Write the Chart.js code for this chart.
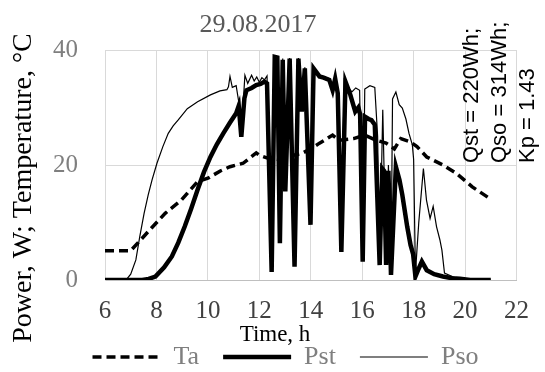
<!DOCTYPE html>
<html>
<head>
<meta charset="utf-8">
<script src="https://cdn.jsdelivr.net/npm/chart.js@4.4.0/dist/chart.umd.min.js"></script>
<style>
  html, body { margin: 0; padding: 0; background: #fff; }
  #wrap { width: 545px; height: 372px; }
</style>
</head>
<body>
<div id="wrap"><canvas id="mychart" width="545" height="372"></canvas></div>
<script>
// chart texts
const chartTitle = "29.08.2017"
const xTitle = "Time, h"
const yTitle = "Power, W; Temperature, \u00B0C"
const notes = ["Qst = 220Wh;", "Qso = 314Wh;", "Kp = 1.43"]
const seriesNames = ["Ta", "Pst", "Pso"]

// ambient temperature
const taTime = [6, 7.0, 7.33, 7.8, 8.34, 8.97, 9.6, 10.0, 10.5, 10.86, 11.37, 11.88, 12.0, 12.32, 12.7, 13.33, 13.65, 14.03, 14.34, 14.53, 14.85, 15.1, 15.67, 16.1, 16.55, 16.93, 17.25, 17.5, 17.88, 18.13, 18.51, 19.14, 19.65, 20.28, 20.95]
const taVal = [5.1, 5.1, 6.7, 9.0, 11.6, 13.9, 17.1, 17.7, 19.0, 19.7, 20.3, 22.1, 21.7, 21.2, 21.0, 21.7, 22.0, 22.9, 23.8, 24.3, 25.2, 24.3, 24.6, 25.2, 24.3, 23.8, 22.8, 24.6, 24.0, 23.2, 21.4, 20.0, 18.6, 16.2, 14.2]

// power, st
const pstTime = [6, 7.45, 7.7, 7.96, 8.3, 8.6, 8.85, 9.1, 9.35, 9.6, 9.85, 10.1, 10.35, 10.6, 10.85, 11.1, 11.2, 11.3, 11.42, 11.5, 11.7, 11.88, 12.05, 12.2, 12.3, 12.48, 12.6, 12.7, 12.8, 12.91, 13.01, 13.18, 13.37, 13.52, 13.65, 13.77, 13.99, 14.11, 14.34, 14.5, 14.72, 14.85, 14.95, 15.05, 15.19, 15.35, 15.45, 15.54, 15.65, 15.73, 15.85, 15.92, 16.02, 16.11, 16.25, 16.36, 16.49, 16.68, 16.78, 16.85, 16.93, 17.02, 17.12, 17.31, 17.45, 17.56, 17.75, 17.88, 17.98, 18.07, 18.2, 18.32, 18.51, 18.8, 19.14, 19.5, 19.8, 20.2, 21.0]
const pstVal = [0, 0, 0.2, 0.6, 2.2, 4.1, 6.5, 9.3, 12.4, 15.7, 18.8, 21.4, 23.6, 25.5, 27.3, 29.0, 30.3, 24.9, 31.6, 33.0, 33.4, 33.9, 34.1, 34.5, 34.2, 1.4, 38.8, 38.7, 6.4, 38.3, 15.4, 38.5, 2.3, 38.5, 29.3, 36.8, 9.6, 36.8, 35.4, 35.2, 34.8, 33.0, 35.0, 32.5, 4.9, 34.5, 33.3, 32.2, 30.5, 29.3, 30.0, 28.8, 3.2, 28.4, 28.0, 27.8, 27.0, 2.6, 19.4, 19.0, 2.6, 19.0, 0.9, 19.7, 17.4, 14.8, 9.3, 6.1, 4.5, 0.6, 2.0, 3.2, 1.7, 1.0, 0.6, 0.3, 0.2, 0, 0]

// power, so
const psoTime = [6, 6.82, 7.0, 7.2, 7.35, 7.52, 7.68, 7.83, 8.02, 8.25, 8.46, 8.65, 8.84, 9.2, 9.6, 10.1, 10.47, 10.74, 10.8, 10.86, 10.95, 11.1, 11.2, 11.3, 11.44, 11.55, 11.7, 11.8, 11.9, 12.0, 12.1, 12.2, 12.3, 12.48, 12.6, 12.7, 12.8, 12.91, 13.01, 13.18, 13.37, 13.52, 13.65, 13.77, 13.99, 14.11, 14.34, 14.5, 14.72, 14.85, 14.95, 15.05, 15.19, 15.3, 15.45, 15.6, 15.75, 15.9, 16.02, 16.1, 16.3, 16.49, 16.6, 16.68, 16.8, 16.93, 17.02, 17.12, 17.18, 17.31, 17.44, 17.56, 17.7, 17.82, 17.95, 18.0, 18.07, 18.2, 18.38, 18.5, 18.64, 18.76, 18.89, 19.02, 19.1, 19.2, 19.5, 19.7, 20.0, 21.0]
const psoVal = [0, 0, 1.0, 3.5, 7.5, 11.6, 14.8, 17.4, 20.3, 23.2, 25.5, 26.8, 27.8, 29.8, 31.0, 32.2, 32.9, 33.1, 33.6, 35.4, 33.5, 33.8, 31.0, 25.5, 35.6, 34.2, 35.6, 34.6, 35.3, 34.4, 35.2, 34.8, 35.5, 1.6, 38.9, 38.8, 6.6, 38.5, 15.6, 38.6, 2.5, 38.6, 29.5, 37.0, 9.8, 37.0, 35.6, 35.4, 35.0, 33.2, 35.2, 33.0, 5.1, 34.8, 33.5, 32.7, 33.4, 33.0, 3.4, 33.2, 33.8, 33.5, 25.0, 2.8, 29.6, 2.8, 20.0, 1.1, 31.5, 32.7, 30.5, 29.9, 28.0, 25.5, 23.5, 21.0, 1.2, 10.0, 19.4, 13.9, 10.7, 12.8, 9.3, 7.0, 5.2, 1.2, 0.6, 0.3, 0, 0]

const serif = '"Liberation Serif", "Times New Roman", Tinos, "DejaVu Serif", serif'

function toPoints(xs, ys) {
    return xs.map(function(x, i) { return { x: x, y: ys[i] } })
}

// extra texts: title, axis titles and the notes
const textPlugin = {
    id: 'texts',
    afterLayout(chart) {
        // legend row sits a bit right and higher in the original
        chart.legend.left += 22
        chart.legend.right += 22
        chart.legend.top -= 9
    },
    afterDraw(chart) {
        const ctx = chart.ctx
        ctx.save()
        ctx.textBaseline = 'alphabetic'

        ctx.fillStyle = '#595959'
        ctx.font = '26px ' + serif
        ctx.textAlign = 'center'
        ctx.fillText(chartTitle, 258, 32)

        ctx.fillStyle = '#000'
        ctx.font = '23px ' + serif
        ctx.fillText(xTitle, 275, 341)

        ctx.save()
        ctx.translate(31, 188)
        ctx.rotate(-Math.PI / 2)
        ctx.font = '28px ' + serif
        ctx.fillText(yTitle, 0, 0)
        ctx.restore()

        const noteX = [478, 506, 534]
        ctx.font = '22px "Liberation Sans", Arimo, sans-serif'
        ctx.textAlign = 'left'
        notes.forEach(function(t, i) {
            ctx.save()
            ctx.translate(noteX[i], 163)
            ctx.rotate(-Math.PI / 2)
            ctx.fillText(t, 0, 0)
            ctx.restore()
        })
        ctx.restore()
    }
}

const canvas = document.getElementById("mychart")
new Chart(canvas, {
    type: 'line',
    data: {
        datasets: [{
            label: seriesNames[0],
            data: toPoints(taTime, taVal),
            borderColor: '#000',
            borderWidth: 3.5,
            borderDash: [9, 5],
            pointRadius: 0,
            tension: 0
        }, {
            label: seriesNames[1],
            data: toPoints(pstTime, pstVal),
            borderColor: '#000',
            borderWidth: 4.5,
            pointRadius: 0,
            tension: 0
        }, {
            label: seriesNames[2],
            data: toPoints(psoTime, psoVal),
            borderColor: '#000',
            borderWidth: 1.2,
            pointRadius: 0,
            tension: 0
        }]
    },
    options: {
        responsive: false,
        animation: false,
        layout: { padding: { left: 0, right: 18, top: 50, bottom: 0 } },
        plugins: {
            title: { display: false },
            tooltip: { enabled: false },
            legend: {
                position: 'bottom',
                maxHeight: 43,
                labels: {
                    usePointStyle: true,
                    pointStyle: 'line',
                    pointStyleWidth: 68,
                    padding: 24,
                    color: '#7f7f7f',
                    font: { family: serif, size: 26 },
                    generateLabels: function(chart) {
                        const items = Chart.defaults.plugins.legend.labels.generateLabels(chart)
                        items.forEach(function(item) {
                            const ds = chart.data.datasets[item.datasetIndex]
                            item.lineDash = ds.borderDash || []
                            item.lineWidth = ds.borderWidth
                            item.strokeStyle = ds.borderColor
                        })
                        return items
                    }
                }
            }
        },
        scales: {
            x: {
                type: 'linear',
                min: 6,
                max: 22,
                ticks: {
                    stepSize: 2,
                    padding: 16,
                    color: '#404040',
                    font: { family: serif, size: 25 }
                },
                grid: { color: '#d9d9d9', drawTicks: false },
                border: { color: '#bfbfbf' },
                afterFit: function(scale) {
                    scale.height = 372 - 280 - 43
                }
            },
            y: {
                min: 0,
                max: 40,
                ticks: {
                    stepSize: 20,
                    padding: 27,
                    color: '#7f7f7f',
                    font: { family: serif, size: 25 }
                },
                grid: { color: '#d9d9d9', drawTicks: false },
                border: { color: '#d9d9d9' },
                afterFit: function(scale) {
                    scale.width = 105
                }
            }
        }
    },
    plugins: [textPlugin]
})
</script>
</body>
</html>
